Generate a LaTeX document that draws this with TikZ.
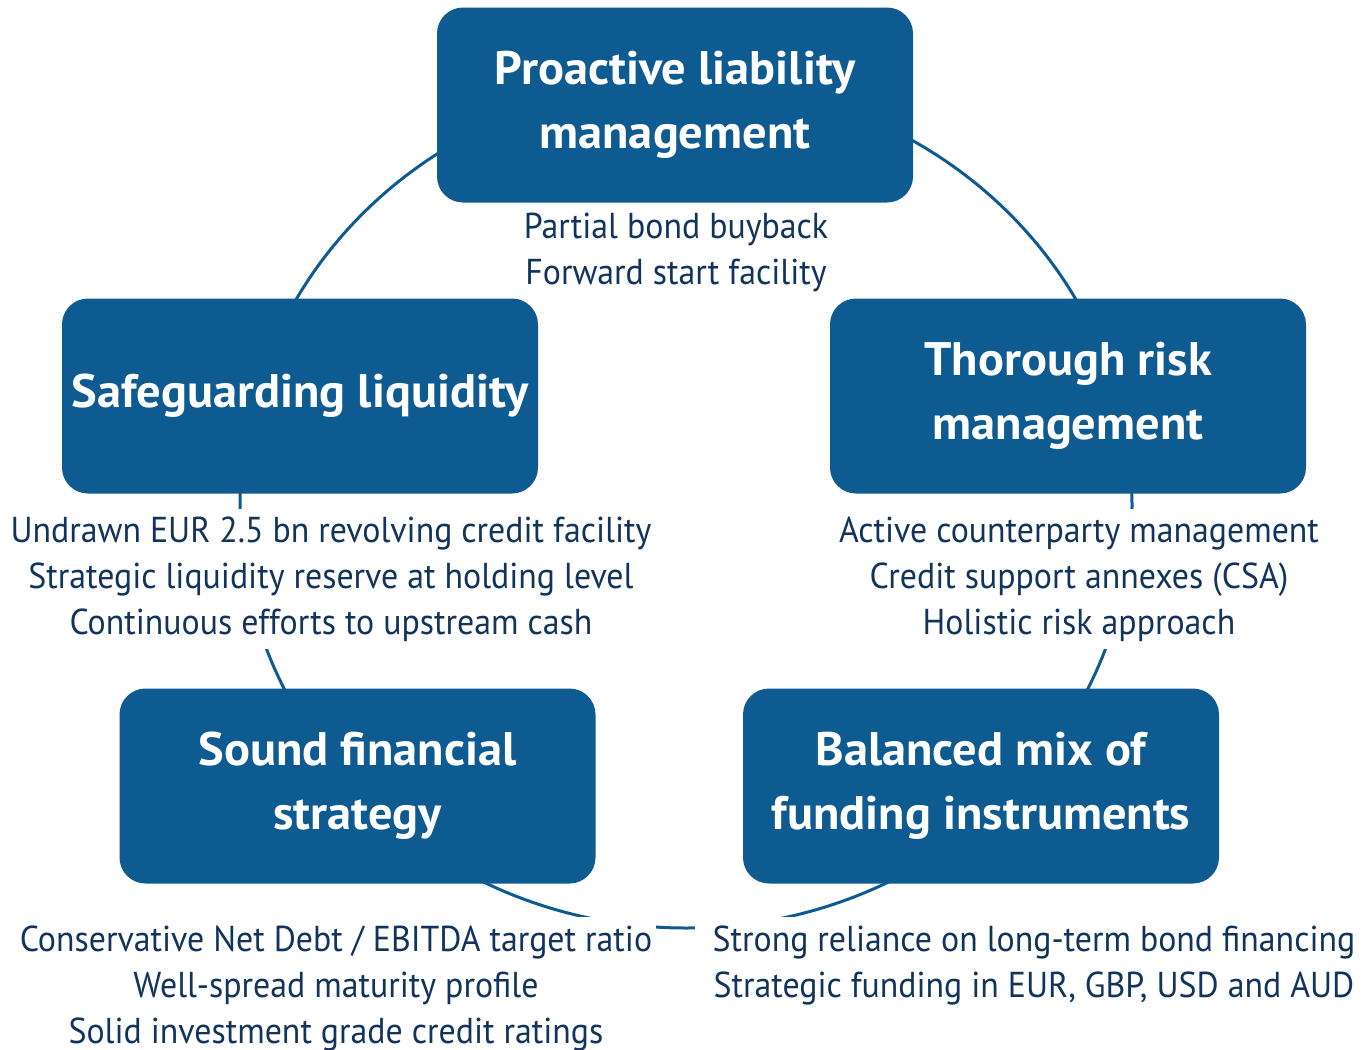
\documentclass[tikz,border=0pt]{standalone}
\usepackage{fontspec}
\setmainfont{PT Sans}[FakeStretch=0.94,BoldFeatures={FakeStretch=1.03}]
\usepackage{tikz}
\usetikzlibrary{positioning}
\definecolor{pillarblue}{RGB}{14,91,146}
\definecolor{notenavy}{RGB}{18,52,92}

\begin{document}
\begin{tikzpicture}[x=0.5pt,y=-0.5pt,
  pillar/.style={fill=pillarblue,rounded corners=13pt,minimum width=238pt,minimum height=97.5pt,
    text=white,font=\bfseries\fontsize{23.5}{32}\selectfont,align=center,inner sep=0pt},
  notes/.style={fill=white,text=notenavy,font=\fontsize{18}{23}\selectfont,align=center,
    inner xsep=2pt,inner ysep=4pt},
  ring/.style={draw=pillarblue,line width=1.5pt}]
  \useasboundingbox (0,0) rectangle (1364,1049);

  % ring behind the pillars
  \coordinate (hub) at (686,505);
  \draw[ring] (hub) ellipse [x radius=223pt,y radius=211.5pt];

  % pillars
  \node[pillar] (liability) at (675,105) {Proactive liability\\management};
  \node[pillar] (liquidity) at (300,396) {Safeguarding liquidity};
  \node[pillar] (risk) at (1068,396) {Thorough risk\\management};
  \node[pillar] (strategy) at (357.5,786) {Sound financial\\strategy};
  \node[pillar] (funding) at (981,786) {Balanced mix of\\funding instruments};

  % notes under each pillar
  \node[notes] (liabilitynotes) at (676,252) {Partial bond buyback\\Forward start facility};
  \node[notes] (liquiditynotes) at (331,579) {Undrawn EUR 2.5 bn revolving credit facility\\Strategic liquidity reserve at holding level\\Continuous efforts to upstream cash};
  \node[notes] (risknotes) at (1079,579) {Active counterparty management\\Credit support annexes (CSA)\\Holistic risk approach};
  \node[notes] (strategynotes) at (336,988) {Conservative Net Debt / EBITDA target ratio\\Well-spread maturity profile\\Solid investment grade credit ratings};
  \node[notes,inner xsep=9pt] (fundingnotes) at (1034,965) {Strong reliance on long-term bond financing\\Strategic funding in EUR, GBP, USD and AUD};
\end{tikzpicture}
\end{document}
